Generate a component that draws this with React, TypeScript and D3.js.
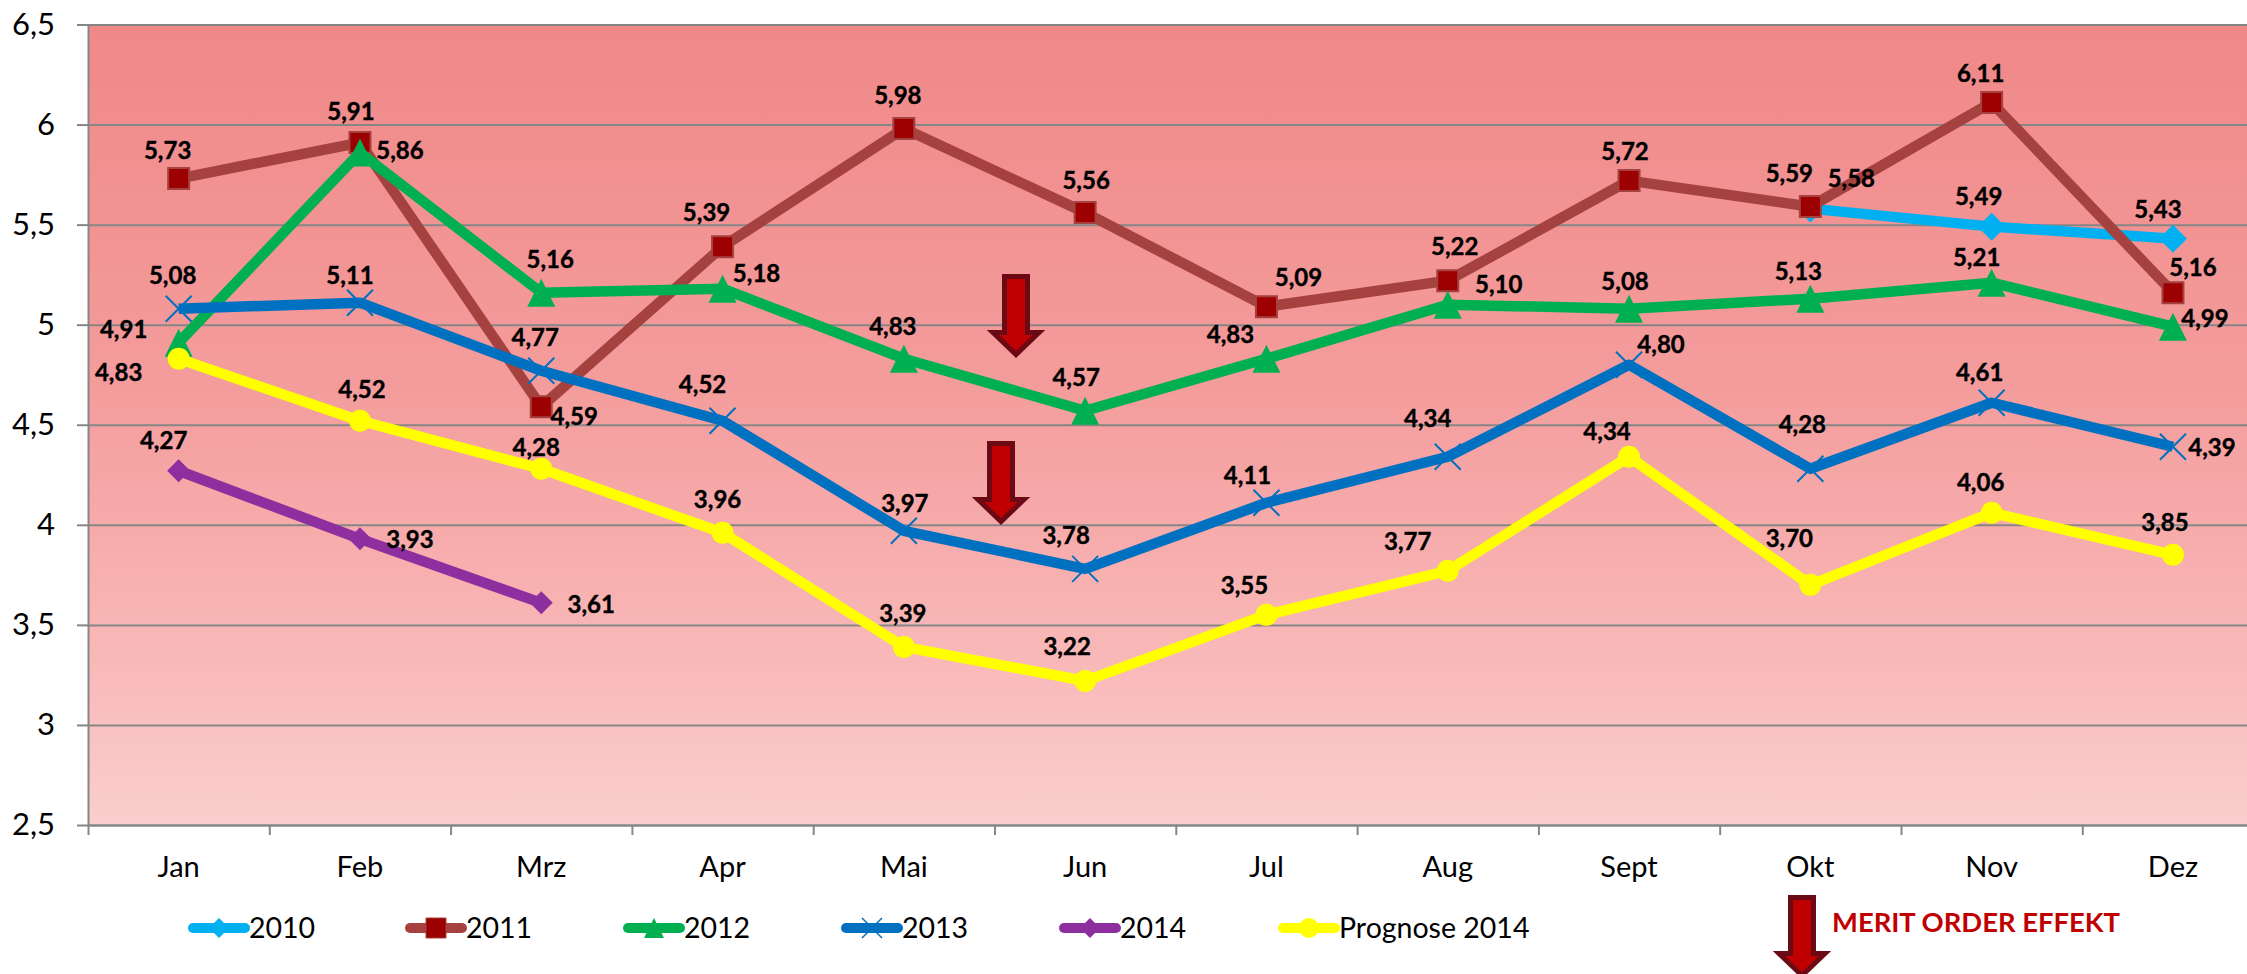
import { useEffect, useRef } from "react";
import * as d3 from "d3";

const WIDTH = 2247;
const HEIGHT = 974;
const PLOT = { left: 88, top: 24.5, right: 2263.6, bottom: 825 };
const FONT = "Lato";
const GRID_COLOR = "#868686";

const MONTHS = ["Jan", "Feb", "Mrz", "Apr", "Mai", "Jun", "Jul", "Aug", "Sept", "Okt", "Nov", "Dez"];
const Y_TICKS = [2.5, 3, 3.5, 4, 4.5, 5, 5.5, 6, 6.5];

type Val = number | null;
type Off = [number, number] | null;

const V2010: Val[] = [null, null, null, null, null, null, null, null, null, 5.58, 5.49, 5.43];
const V2011: Val[] = [5.73, 5.91, 4.59, 5.39, 5.98, 5.56, 5.09, 5.22, 5.72, 5.59, 6.11, 5.16];
const V2012: Val[] = [4.91, 5.86, 5.16, 5.18, 4.83, 4.57, 4.83, 5.1, 5.08, 5.13, 5.21, 4.99];
const V2013: Val[] = [5.08, 5.11, 4.77, 4.52, 3.97, 3.78, 4.11, 4.34, 4.8, 4.28, 4.61, 4.39];
const V2014: Val[] = [4.27, 3.93, 3.61, null, null, null, null, null, null, null, null, null];
const PROGNOSE: Val[] = [4.83, 4.52, 4.28, 3.96, 3.39, 3.22, 3.55, 3.77, 4.34, 3.7, 4.06, 3.85];

// hand placed data label offsets, same as in the original chart
const OFF_2010: Off[] = [null, null, null, null, null, null, null, null, null, [41, -30], [-13, -30], [-15, -29]];
const OFF_2011: Off[] = [[-11, -28], [-9, -31], [33, 10], [-16, -34], [-6, -33], [1, -32], [32, -29], [7, -34], [-4, -29], [-21, -33], [-11, -29], [20, -25]];
const OFF_2012: Off[] = [[-55, -13], [40, -2], [9, -33], [34, -15], [-11, -32], [-9, -33], [-36, -24], [51, -20], [-4, -27], [-12, -27], [-15, -25], [32, -8]];
const OFF_2013: Off[] = [[-6, -33], [-10, -27], [-6, -33], [-20, -36], [1, -27], [-19, -33], [-19, -27], [-20, -38], [32, -20], [-8, -44], [-12, -30], [39, 1]];
const OFF_2014: Off[] = [[-15, -30], [50, 1], [50, 1], null, null, null, null, null, null, null, null, null];
const OFF_PROGNOSE: Off[] = [[-60, 14], [2, -31], [-5, -21], [-5, -33], [-1, -34], [-18, -35], [-22, -30], [-40, -29], [-22, -25], [-21, -46], [-11, -30], [-8, -32]];

// marker shapes, "size" is the half extent in px here
const diamond = {
  draw(ctx: any, r: number) {
    ctx.moveTo(0, -r);
    ctx.lineTo(r, 0);
    ctx.lineTo(0, r);
    ctx.lineTo(-r, 0);
    ctx.closePath();
  },
};
const square = {
  draw(ctx: any, r: number) {
    ctx.rect(-r, -r, 2 * r, 2 * r);
  },
};
const triangle = {
  draw(ctx: any, r: number) {
    ctx.moveTo(0, -r);
    ctx.lineTo(r, r);
    ctx.lineTo(-r, r);
    ctx.closePath();
  },
};
const cross = {
  draw(ctx: any, r: number) {
    ctx.moveTo(-r, -r);
    ctx.lineTo(r, r);
    ctx.moveTo(r, -r);
    ctx.lineTo(-r, r);
  },
};
const circle = {
  draw(ctx: any, r: number) {
    ctx.moveTo(r, 0);
    ctx.arc(0, 0, r, 0, 2 * Math.PI);
  },
};

const SERIES = [
  { name: "2010", values: V2010, offsets: OFF_2010, color: "#00B0F0", markerFill: "#00B0F0", markerStroke: "none", shape: diamond, r: 14, legendX: 188 },
  { name: "2011", values: V2011, offsets: OFF_2011, color: "#A5423F", markerFill: "#9C0000", markerStroke: "#A5423F", shape: square, r: 10.5, legendX: 405 },
  { name: "2012", values: V2012, offsets: OFF_2012, color: "#00B050", markerFill: "#00B050", markerStroke: "none", shape: triangle, r: 14, legendX: 623 },
  { name: "2013", values: V2013, offsets: OFF_2013, color: "#0070C0", markerFill: "none", markerStroke: "#0070C0", shape: cross, r: 13, legendX: 841 },
  { name: "2014", values: V2014, offsets: OFF_2014, color: "#8E2FA0", markerFill: "#8E2FA0", markerStroke: "none", shape: diamond, r: 11.5, legendX: 1059 },
  { name: "Prognose 2014", values: PROGNOSE, offsets: OFF_PROGNOSE, color: "#FFFF00", markerFill: "#FFFF00", markerStroke: "none", shape: circle, r: 11, legendX: 1278 },
];

// red down arrows: [center x, top y]
const ARROWS = [
  [1016, 274],
  [1001, 441],
  [1802, 895],
];

export default function App() {
  const svgRef = useRef<SVGSVGElement>(null);

  useEffect(() => {
    if (!svgRef.current) return;
    const svg = d3.select(svgRef.current);
    svg.selectAll("*").remove();

    const x = d3.scaleBand<string>().domain(MONTHS).range([PLOT.left, PLOT.right]);
    const xEdges = d3.scaleLinear().domain([0, 12]).range([PLOT.left, PLOT.right]);
    const y = d3.scaleLinear().domain([2.5, 6.5]).range([PLOT.bottom, PLOT.top]);
    const xMid = (i: number) => (x(MONTHS[i]) as number) + x.bandwidth() / 2;
    const comma = (v: d3.NumberValue) => String(v).replace(".", ",");

    const gradient = svg
      .append("defs")
      .append("linearGradient")
      .attr("id", "plotBg")
      .attr("x1", 0)
      .attr("y1", 0)
      .attr("x2", 0)
      .attr("y2", 1);
    [
      [0, "#F08888"],
      [0.45, "#F49C9C"],
      [0.8, "#F9B9B9"],
      [1, "#FACECE"],
    ].forEach(([o, c]) => gradient.append("stop").attr("offset", o).attr("stop-color", c));

    svg
      .append("rect")
      .attr("x", PLOT.left)
      .attr("y", PLOT.top)
      .attr("width", PLOT.right - PLOT.left)
      .attr("height", PLOT.bottom - PLOT.top)
      .attr("fill", "url(#plotBg)");

    // horizontal grid
    svg
      .append("g")
      .attr("transform", `translate(${PLOT.left},0)`)
      .call(
        d3
          .axisLeft(y)
          .tickValues(Y_TICKS)
          .tickSize(-(PLOT.right - PLOT.left))
          .tickFormat(() => "")
      )
      .call((g) => g.select(".domain").remove())
      .call((g) => g.selectAll(".tick line").attr("stroke", GRID_COLOR).attr("stroke-width", 2));

    // y axis
    svg
      .append("g")
      .attr("transform", `translate(${PLOT.left},0)`)
      .call(d3.axisLeft(y).tickValues(Y_TICKS).tickSize(11).tickSizeOuter(0).tickPadding(22).tickFormat(comma))
      .call((g) => g.select(".domain").attr("stroke", GRID_COLOR).attr("stroke-width", 2))
      .call((g) => g.selectAll(".tick line").attr("stroke", GRID_COLOR).attr("stroke-width", 2))
      .call((g) =>
        g.selectAll(".tick text").attr("fill", "#000").style("font-family", FONT).style("font-size", "31px")
      );

    // x axis ticks sit on the band edges
    svg
      .append("g")
      .attr("transform", `translate(0,${PLOT.bottom})`)
      .call(d3.axisBottom(xEdges).ticks(12).tickSize(10).tickSizeOuter(0).tickFormat(() => ""))
      .call((g) => g.select(".domain").attr("stroke", GRID_COLOR).attr("stroke-width", 2))
      .call((g) => g.selectAll(".tick line").attr("stroke", GRID_COLOR).attr("stroke-width", 2));

    svg
      .append("g")
      .attr("transform", `translate(0,${PLOT.bottom})`)
      .call(d3.axisBottom(x).tickSize(0).tickPadding(31))
      .call((g) => g.select(".domain").remove())
      .call((g) =>
        g.selectAll(".tick text").attr("fill", "#000").style("font-family", FONT).style("font-size", "29px")
      );

    const line = d3
      .line<Val>()
      .defined((d) => d !== null)
      .x((_, i) => xMid(i))
      .y((d) => y(d as number))
      .curve(d3.curveLinear);

    SERIES.forEach((s) => {
      const g = svg.append("g");
      g.append("path")
        .attr("d", line(s.values))
        .attr("fill", "none")
        .attr("stroke", s.color)
        .attr("stroke-width", 10.5)
        .attr("stroke-linejoin", "round");
      g.selectAll("path.marker")
        .data(s.values.map((v, i) => ({ v, i })).filter((d) => d.v !== null))
        .enter()
        .append("path")
        .attr("class", "marker")
        .attr("transform", (d) => `translate(${xMid(d.i)},${y(d.v as number)})`)
        .attr("d", d3.symbol().type(s.shape).size(s.r)() as string)
        .attr("fill", s.markerFill)
        .attr("stroke", s.markerStroke)
        .attr("stroke-width", 2);
    });

    // data labels above all lines
    SERIES.forEach((s) => {
      s.values.forEach((v, i) => {
        const off = s.offsets[i];
        if (v === null || !off) return;
        svg
          .append("text")
          .attr("x", xMid(i) + off[0])
          .attr("y", y(v) + off[1])
          .attr("dy", "0.36em")
          .attr("text-anchor", "middle")
          .attr("stroke", "#000")
          .attr("stroke-width", 0.4)
          .style("font-family", FONT)
          .style("font-size", "24px")
          .style("font-weight", 700)
          .text(v.toFixed(2).replace(".", ","));
      });
    });

    // legend
    SERIES.forEach((s) => {
      const g = svg.append("g").attr("transform", `translate(${s.legendX},928)`);
      g.append("line")
        .attr("x1", 5)
        .attr("x2", 57)
        .attr("stroke", s.color)
        .attr("stroke-width", 10)
        .attr("stroke-linecap", "round");
      g.append("path")
        .attr("transform", "translate(31,0)")
        .attr("d", d3.symbol().type(s.shape).size(10)() as string)
        .attr("fill", s.markerFill)
        .attr("stroke", s.markerStroke)
        .attr("stroke-width", s.shape === cross ? 1.5 : 1);
      g.append("text")
        .attr("x", 61)
        .attr("dy", "0.36em")
        .style("font-family", FONT)
        .style("font-size", "28.5px")
        .text(s.name);
    });

    // merit order arrows
    ARROWS.forEach(([cx, top]) => {
      svg
        .append("path")
        .attr("transform", `translate(${cx},${top})`)
        .attr("d", "M-11.5,2.5H11.5V58.5H23L0,80.5L-23,58.5H-11.5Z")
        .attr("fill", "#C00000")
        .attr("stroke", "#6B0A14")
        .attr("stroke-width", 5);
    });

    svg
      .append("text")
      .attr("x", 1832)
      .attr("y", 922)
      .attr("dy", "0.36em")
      .attr("fill", "#C00000")
      .style("font-family", FONT)
      .style("font-size", "27.4px")
      .style("font-weight", 700)
      .text("MERIT ORDER EFFEKT");
  }, []);

  return (
    <svg
      ref={svgRef}
      width={WIDTH}
      height={HEIGHT}
      style={{ position: "absolute", left: 0, top: 0, background: "#fff" }}
    />
  );
}
